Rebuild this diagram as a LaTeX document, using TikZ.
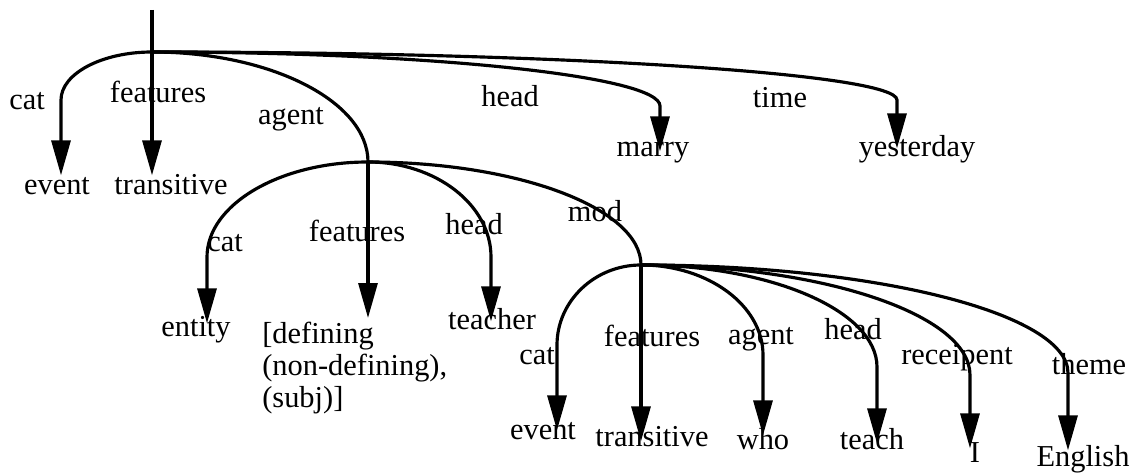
\documentclass[tikz,border=0pt]{standalone}
\usepackage{fontspec}
\setmainfont{Liberation Serif}
\usetikzlibrary{arrows.meta,calc}
\tikzset{
	drop/.style={
			to path={let \p1=(\tikztostart), \p2=(\tikztotarget),
					\p3=($(\x2,\y1)+(0,#1)$) in
					.. controls ($(\p1)!0.55!(\x2,\y1)$) and ($(\p3)!0.55!(\x2,\y1)$)
					.. (\p3) -- (\p2)}
		}
}

\begin{document}
\begin{tikzpicture}[
x = 0.02cm, y = -0.02cm,
font = \fontsize{17.3}{18.2}\selectfont,
every edge/.style = {draw, -{Triangle[length=0.7cm, width=0.38cm]}, line width=1.8pt, black},
      word/.style = {inner sep=0pt, anchor=base},
      leaf/.style = {word, text height=0.7em, text depth=0.22em}
                    ]
\useasboundingbox (0,0) rectangle (1140,475);

\coordinate (top)  at (152,10);
\coordinate (root) at (152,52);
\coordinate (agt)  at (368,162);
\coordinate (md)   at (641,265);

% values
\node[leaf] (evt)     at (57,195)   {event};
\node[leaf] (trans)   at (171,195)  {transitive};
\node[leaf] (marry)   at (653,157)  {marry};
\node[leaf] (yest)    at (917,157)  {yesterday};
\node[leaf] (entity)  at (196,337)  {entity};
\node[word, anchor=north west, align=left] (def) at (262,322)
      {[defining\\(non-defining),\\(subj)]};
\node[leaf] (teacher) at (492,330)  {teacher};
\node[leaf] (evt2)    at (543,440)  {event};
\node[leaf] (trans2)  at (652,447)  {transitive};
\node[leaf] (who)     at (763,450)  {who};
\node[leaf] (teach)   at (872,450)  {teach};
\node[leaf] (I)       at (975,463)  {I};
\node[leaf] (eng)     at (1083,467) {English};

% features
\node[word] (cat-a)   at (27,110)   {cat};
\node[word] (feat-a)  at (158,103)  {features};
\node[word] (agent-a) at (291,125)  {agent};
\node[word] (head-a)  at (510,107)  {head};
\node[word] (time-a)  at (780,108)  {time};
\node[word] (cat-b)   at (225,252)  {cat};
\node[word] (feat-b)  at (357,242)  {features};
\node[word] (head-b)  at (474,235)  {head};
\node[word] (mod-b)   at (595,222)  {mod};
\node[word] (cat-c)   at (537,365)  {cat};
\node[word] (feat-c)  at (652,347)  {features};
\node[word] (agent-c) at (761,345)  {agent};
\node[word] (head-c)  at (853,340)  {head};
\node[word] (rec-c)   at (957,365)  {receipent};
\node[word] (theme-c) at (1089,375) {theme};

\draw   (root) edge[drop=48]      ($(evt.north)+(4,-7)$)
        (top)  edge               ($(trans.north)+(-19,-7)$)
        (root) edge[drop=110, -]  (agt)
        (root) edge[drop=54]      ($(marry.north)+(7,7)$)
        (root) edge[drop=48]      ($(yest.north)+(-20,4)$);

\draw   (agt)  edge[drop=95]      ($(entity.north)+(11,-1)$)
        (agt)  edge               ($(agt |- def.north)+(0,-4)$)
        (agt)  edge[drop=95]      ($(teacher.north)+(-1,4)$)
        (agt)  edge[drop=103, -]  (md);

\draw   (md)   edge[drop=80]      ($(evt2.north)+(14,3)$)
        (md)   edge               ($(trans2.north)+(-11,7)$)
        (md)   edge[drop=90]      ($(who.north)+(0,-2)$)
        (md)   edge[drop=102]     ($(teach.north)+(5,6)$)
        (md)   edge[drop=110]     ($(I.north)+(-5,-2)$)
        (md)   edge[drop=108]     ($(eng.north)+(-15,-4)$);
\end{tikzpicture}
\end{document}
